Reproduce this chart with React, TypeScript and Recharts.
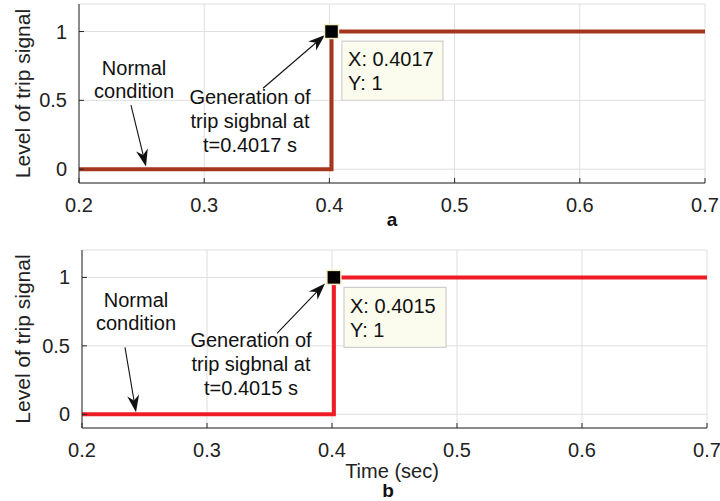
import React from "react";
import {
  ComposedChart,
  Line,
  XAxis,
  YAxis,
  CartesianGrid,
  ReferenceDot,
  ReferenceArea,
  ReferenceLine,
} from "recharts";

// time (s) and trip level for each panel
const timeA = [0.2, 0.4017, 0.4017, 0.7];
const levelA = [0, 0, 1, 1];
const timeB = [0.2, 0.4015, 0.4015, 0.7];
const levelB = [0, 0, 1, 1];

const xTicks = [0.2, 0.3, 0.4, 0.5, 0.6, 0.7];
const yTicks = [0, 0.5, 1];

const FONT = "'Liberation Sans', Arial, Helvetica, sans-serif";
const AXIS = "#262626";
const GRID = "#dedede";

type Note = {
  normal: [number, number];
  normalArrow: [number, number, number, number];
  gen: [number, number];
  genArrow: [number, number, number, number];
  tipBox: [number, number, number, number];
  tipText: [number, number];
  tripTime: number;
};

const notesA: Note = {
  normal: [0.244, 0.683],
  normalArrow: [0.2415, 0.465, 0.2535, 0.02],
  gen: [0.3366, 0.472],
  genArrow: [0.347, 0.588, 0.3965, 0.975],
  tipBox: [0.41, 0.4907, 0.93, 0.501],
  tipText: [0.4149, 0.748],
  tripTime: 0.4017,
};

const notesB: Note = {
  normal: [0.2432, 0.781],
  normalArrow: [0.2344, 0.489, 0.2432, 0.015],
  gen: [0.3352, 0.489],
  genArrow: [0.356, 0.591, 0.3944, 0.956],
  tipBox: [0.4096, 0.4912, 0.927, 0.489],
  tipText: [0.4144, 0.737],
  tripTime: 0.4015,
};

function arrowShape(props: any) {
  const { x1, y1, x2, y2 } = props;
  const ang = Math.atan2(y2 - y1, x2 - x1);
  const len = 17;
  const w = 6;
  const bx = x2 - len * Math.cos(ang);
  const by = y2 - len * Math.sin(ang);
  const nx = -Math.sin(ang) * w;
  const ny = Math.cos(ang) * w;
  const mx = x2 - len * 0.7 * Math.cos(ang);
  const my = y2 - len * 0.7 * Math.sin(ang);
  return (
    <g>
      <line x1={x1} y1={y1} x2={mx} y2={my} stroke="#111" strokeWidth={1.1} />
      <path
        d={`M${x2},${y2} L${bx + nx},${by + ny} L${mx},${my} L${bx - nx},${by - ny} Z`}
        fill="#111"
      />
    </g>
  );
}

function multiText(lines: string[], step = 24) {
  return (props: any) => (
    <text
      x={props.cx}
      y={props.cy}
      textAnchor="middle"
      fontFamily={FONT}
      fontSize={20}
      fill="#111"
    >
      {lines.map((l, i) => (
        <tspan key={i} x={props.cx} dy={i === 0 ? 0 : step}>
          {l}
        </tspan>
      ))}
    </text>
  );
}

function tipText(lines: string[]) {
  return (props: any) => (
    <text x={props.cx} y={props.cy} fontFamily={FONT} fontSize={20} fill="#111">
      {lines.map((l, i) => (
        <tspan key={i} x={props.cx} dy={i === 0 ? 0 : 24}>
          {l}
        </tspan>
      ))}
    </text>
  );
}

const markerShape = (props: any) => (
  <rect
    x={props.cx - 7}
    y={props.cy - 7}
    width={14}
    height={14}
    fill="#000"
    stroke="#f3eec4"
    strokeWidth={1.5}
  />
);

function yLabel(props: any) {
  const vb = props.viewBox;
  const cx = 22;
  const cy = vb.y + vb.height / 2;
  return (
    <text
      x={cx}
      y={cy}
      transform={`rotate(-90 ${cx} ${cy})`}
      textAnchor="middle"
      dominantBaseline="central"
      fontFamily={FONT}
      fontSize={21}
      fill="#222"
    >
      Level of trip signal
    </text>
  );
}

function Panel({
  time,
  level,
  color,
  width,
  notes,
  leftW,
  height,
  bottom,
  caption,
  showTime,
}: {
  time: number[];
  level: number[];
  color: string;
  width: number;
  notes: Note;
  leftW: number;
  height: number;
  bottom: number;
  caption: string;
  showTime: boolean;
}) {
  const data = time.map((t, i) => ({ t, v: level[i] }));
  const tick = { fontSize: 20, fill: "#222", fontFamily: FONT };
  const plotBottom = height - bottom;
  return (
    <ComposedChart
      width={720}
      height={height}
      data={data}
      margin={{ top: 4, right: 720 - leftW - width, bottom: 0, left: 0 }}
    >
      <CartesianGrid stroke={GRID} strokeWidth={1} />
      <XAxis
        dataKey="t"
        type="number"
        domain={[0.2, 0.7]}
        ticks={xTicks}
        allowDataOverflow
        tick={tick}
        tickSize={-5}
        tickMargin={20}
        stroke={AXIS}
        height={bottom}
        tickFormatter={(v: number) => String(v)}
      />
      <XAxis
        xAxisId="top"
        orientation="top"
        type="number"
        domain={[0.2, 0.7]}
        ticks={xTicks}
        tick={false}
        tickSize={-5}
        stroke={AXIS}
        height={0}
      />
      <YAxis
        type="number"
        domain={[-0.1, 1.2]}
        ticks={yTicks}
        allowDataOverflow
        tick={tick}
        tickSize={-5}
        tickMargin={17}
        stroke={AXIS}
        width={leftW}
        label={yLabel}
      />
      <YAxis
        yAxisId="right"
        orientation="right"
        type="number"
        domain={[-0.1, 1.2]}
        ticks={yTicks}
        tick={false}
        tickSize={-5}
        stroke={AXIS}
        width={0}
      />
      <Line
        dataKey="v"
        type="linear"
        stroke={color}
        strokeWidth={4}
        dot={false}
        isAnimationActive={false}
      />
      <ReferenceArea
        x1={notes.tipBox[0]}
        x2={notes.tipBox[1]}
        y1={notes.tipBox[3]}
        y2={notes.tipBox[2]}
        fill="#fcfcee"
        fillOpacity={1}
        stroke="#cfcfcf"
        strokeWidth={1.2}
      />
      <ReferenceDot
        x={notes.tipText[0]}
        y={notes.tipText[1]}
        shape={tipText([`X: ${notes.tripTime}`, "Y: 1"])}
      />
      <ReferenceDot x={notes.tripTime} y={1} shape={markerShape} />
      <ReferenceDot
        x={notes.normal[0]}
        y={notes.normal[1]}
        shape={multiText(["Normal", "condition"], 23)}
      />
      <ReferenceDot
        x={notes.gen[0]}
        y={notes.gen[1]}
        shape={multiText([
          "Generation of",
          "trip sigbnal at",
          `t=${notes.tripTime} s`,
        ])}
      />
      <ReferenceLine
        segment={[
          { x: notes.normalArrow[0], y: notes.normalArrow[1] },
          { x: notes.normalArrow[2], y: notes.normalArrow[3] },
        ]}
        shape={arrowShape}
      />
      <ReferenceLine
        segment={[
          { x: notes.genArrow[0], y: notes.genArrow[1] },
          { x: notes.genArrow[2], y: notes.genArrow[3] },
        ]}
        shape={arrowShape}
      />
      {showTime && (
        <text
          x={392}
          y={plotBottom + 43}
          textAnchor="middle"
          dominantBaseline="central"
          fontFamily={FONT}
          fontSize={20}
          fill="#222"
        >
          Time (sec)
        </text>
      )}
      <text
        x={showTime ? 388 : 392}
        y={showTime ? height - 11 : plotBottom + 36}
        textAnchor="middle"
        dominantBaseline="central"
        fontFamily={FONT}
        fontSize={19}
        fontWeight="bold"
        fill="#111"
      >
        {caption}
      </text>
    </ComposedChart>
  );
}

export default function App() {
  return (
    <div style={{ position: "absolute", left: 0, top: 0, width: 720, height: 501, background: "#fff" }}>
      <div style={{ position: "absolute", left: 0, top: 0 }}>
        <Panel
          time={timeA}
          level={levelA}
          color="#a5351f"
          width={626}
          leftW={79}
          notes={notesA}
          height={246}
          bottom={63}
          caption="a"
          showTime={false}
        />
      </div>
      <div style={{ position: "absolute", left: 0, top: 246 }}>
        <Panel
          time={timeB}
          level={levelB}
          color="#ee1c25"
          width={625}
          leftW={82}
          notes={notesB}
          height={255}
          bottom={73}
          caption="b"
          showTime={true}
        />
      </div>
    </div>
  );
}
